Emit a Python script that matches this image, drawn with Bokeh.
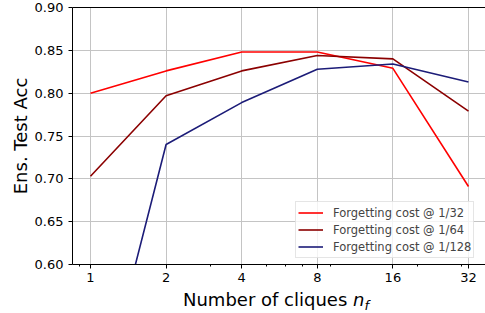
from bokeh.plotting import figure
from bokeh.models import (Range1d, FixedTicker, NumeralTickFormatter, LinearAxis,
                          Legend, LegendItem, Div)
from bokeh.layouts import column
from bokeh.embed import file_html
from bokeh.resources import INLINE

# ---- data ----
nf = [1, 2, 4, 8, 16, 32]
acc_1_32 = [0.800, 0.826, 0.848, 0.848, 0.829, 0.691]
acc_1_64 = [0.703, 0.797, 0.826, 0.844, 0.840, 0.779]
acc_1_128 = [0.395, 0.740, 0.789, 0.828, 0.834, 0.813]
series_labels = ["Forgetting cost @ 1/32", "Forgetting cost @ 1/64", "Forgetting cost @ 1/128"]
y_ticks = [0.60, 0.65, 0.70, 0.75, 0.80, 0.85, 0.90]
x_minor = [0.9, 3, 5, 6, 7, 9, 20, 30]

FONT = "DejaVu Sans"

p = figure(width=485, height=287, x_axis_type="log",
           x_range=Range1d(2 ** -0.238, 2 ** 5.225), y_range=Range1d(0.60, 0.90),
           output_backend="svg", toolbar_location=None,
           min_border_left=72, min_border_right=0, min_border_top=7, min_border_bottom=23)
p.outline_line_color = None
p.background_fill_color = "white"
p.border_fill_color = "white"

colors = ["red", "#8b0000", "#1c1c78"]
renderers = []
for ys, c in zip([acc_1_32, acc_1_64, acc_1_128], colors):
    r = p.line(nf, ys, line_color=c, line_width=1.6)
    renderers.append(r)

# axes
xa = p.xaxis[0]
xa.ticker = FixedTicker(ticks=nf, minor_ticks=x_minor)
xa.formatter = NumeralTickFormatter(format="0")
ya = p.yaxis[0]
ya.ticker = FixedTicker(ticks=y_ticks)
ya.formatter = NumeralTickFormatter(format="0.00")
for ax in (xa, ya):
    ax.axis_line_color = "black"
    ax.axis_line_width = 1
    ax.major_tick_out = 4
    ax.major_tick_in = 0
    ax.minor_tick_in = 0
    ax.minor_tick_out = 2
    ax.major_label_text_font = FONT
    ax.major_label_text_font_size = "13px"
    ax.major_label_text_color = "black"
    ax.axis_label_text_font = FONT
    ax.axis_label_text_font_size = "18px"
    ax.axis_label_text_font_style = "normal"
    ax.axis_label_text_color = "black"
ya.minor_tick_line_color = None
ya.major_label_standoff = 5
ya.axis_label = "Ens. Test Acc"
ya.axis_label_standoff = 1
xa.major_label_standoff = 4

top = LinearAxis(ticker=FixedTicker(ticks=[]), major_label_text_font_size="0px",
                 major_tick_out=0, minor_tick_out=0, major_label_standoff=0,
                 axis_line_color="black", axis_line_width=1)
p.add_layout(top, "above")

p.xgrid.grid_line_color = "#c4c4c4"
p.ygrid.grid_line_color = "#c4c4c4"
p.xgrid.grid_line_width = 1
p.ygrid.grid_line_width = 1

legend = Legend(items=[LegendItem(label=l, renderers=[r]) for l, r in zip(series_labels, renderers)],
                location=(223, 6), glyph_width=25, glyph_height=17, label_height=17,
                label_standoff=10, padding=2, spacing=0, margin=0,
                label_text_font=FONT, label_text_font_size="11.5px",
                border_line_color="#cccccc", border_line_width=1,
                background_fill_color="white", background_fill_alpha=0.8)
p.add_layout(legend)

# x axis label with math-style n_f (real HTML text)
xlabel = Div(text='Number of cliques <i>n</i><span style="font-style:italic;font-size:13px;'
                  'position:relative;top:4px;">f</span>',
             width=485, height=26, margin=0,
             styles={"font-family": FONT, "font-size": "18px", "line-height": "26px",
                     "padding-left": "183px", "color": "black", "white-space": "nowrap"})

layout = column(p, xlabel, spacing=0)
open("out.html", "w").write(file_html(layout, INLINE))
